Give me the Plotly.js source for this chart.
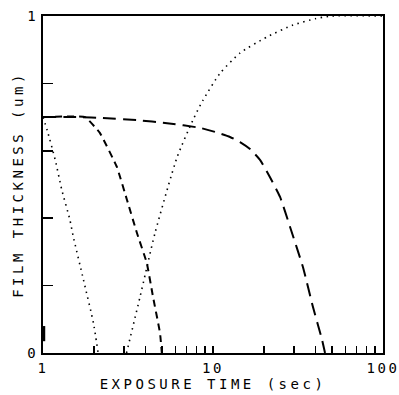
<!DOCTYPE html>
<html>
<head>
<meta charset="utf-8">
<script src="https://cdn.plot.ly/plotly-3.0.1.min.js"></script>
<style>
  html, body { margin: 0; padding: 0; background: #fff; }
  #chart { width: 399px; height: 395px; }
  .xtick text, .ytick text { letter-spacing: 2.5px; }
  .g-xtitle text, .g-ytitle text { letter-spacing: 3.5px; }
</style>
</head>
<body>
<div id="chart"></div>
<script>
// Dotted curve A (decreasing)
const dotA_x = [1, 1.06, 1.18, 1.29, 1.44, 1.5, 1.73, 1.98, 2.11];
const dotA_y = [0.70, 0.66, 0.573, 0.484, 0.395, 0.35, 0.217, 0.089, 0.0];
// Dotted curve B (increasing)
const dotB_x = [3.1, 3.72, 4.56, 6.14, 7.6, 8.73, 11, 14.4, 20.8, 29.5, 40, 50, 100];
const dotB_y = [0.0, 0.166, 0.356, 0.58, 0.69, 0.75, 0.83, 0.89, 0.938, 0.973, 0.992, 1.0, 1.0];
// Short-dash curve C
const dashC_x = [1, 1.77, 2.16, 2.72, 3.12, 3.57, 4.08, 4.44, 4.88, 5.0];
const dashC_y = [0.70, 0.70, 0.653, 0.552, 0.454, 0.356, 0.267, 0.166, 0.059, 0.0];
// Long-dash curve D
const dashD_x = [1, 1.65, 2.25, 3.57, 5.37, 8.39, 10.28, 12.59, 14.42, 16.51, 18.9, 21.6, 24.8, 28.4, 33.8, 38.7, 43.8, 45.6];
const dashD_y = [0.70, 0.70, 0.697, 0.691, 0.682, 0.668, 0.656, 0.641, 0.626, 0.605, 0.573, 0.522, 0.463, 0.374, 0.255, 0.137, 0.039, 0.0];
// Short solid stub near the origin
const solid_x = [1.01, 1.01];
const solid_y = [0.035, 0.08];

// Tick labels
const xTickVals = [1,2,3,4,5,6,7,8,9,10,20,30,40,50,60,70,80,90,100];
const xTickText = ["1","","","","","","","","","10","","","","","","","","","100"];
const yTickVals = [0, 0.2, 0.4, 0.6, 0.8, 1];
const yTickText = ["0", "", "", "", "", "1"];

const FONT = "DejaVu Sans Mono, monospace";

const traces = [
  {x: dotA_x, y: dotA_y, mode: 'lines', line: {color: '#000', width: 1.6, dash: '1.5px,4.5px', shape: 'spline', smoothing: 0.6}},
  {x: dotB_x, y: dotB_y, mode: 'lines', line: {color: '#000', width: 1.6, dash: '1.5px,4.5px', shape: 'spline', smoothing: 0.6}},
  {x: dashC_x, y: dashC_y, mode: 'lines', line: {color: '#000', width: 2, dash: '7px,5px', shape: 'spline', smoothing: 0.3}},
  {x: dashD_x, y: dashD_y, mode: 'lines', line: {color: '#000', width: 2, dash: '13px,7px', shape: 'spline', smoothing: 0.5}},
  {x: solid_x, y: solid_y, mode: 'lines', line: {color: '#000', width: 3}}
];

const layout = {
  width: 399, height: 395,
  margin: {l: 43, r: 16, t: 16, b: 42},
  paper_bgcolor: '#fff', plot_bgcolor: '#fff',
  showlegend: false,
  font: {family: FONT, color: '#000', size: 14},
  xaxis: {
    type: 'log', range: [0, 2],
    showgrid: false, zeroline: false,
    showline: true, mirror: true, linecolor: '#000', linewidth: 2,
    ticks: 'inside', ticklen: 7, tickwidth: 1.5, tickcolor: '#000',
    tickmode: 'array', tickvals: xTickVals, ticktext: xTickText,
    tickfont: {family: FONT, size: 14, color: '#000'},
    ticklabelstandoff: 1, ticklabeloverflow: 'allow',
    title: {text: 'EXPOSURE TIME (sec)', font: {family: FONT, size: 14, color: '#000'}, standoff: 0}
  },
  yaxis: {
    range: [0, 1],
    showgrid: false, zeroline: false,
    showline: true, mirror: true, linecolor: '#000', linewidth: 2,
    ticks: 'inside', ticklen: 10, tickwidth: 1.5, tickcolor: '#000',
    tickmode: 'array', tickvals: yTickVals, ticktext: yTickText,
    tickfont: {family: FONT, size: 14, color: '#000'},
    ticklabeloverflow: 'allow',
    title: {text: 'FILM THICKNESS (um)\u00a0\u00a0', font: {family: FONT, size: 14, color: '#000'}, standoff: 0}
  }
};

Plotly.newPlot('chart', traces, layout, {staticPlot: true, displayModeBar: false});
</script>
</body>
</html>
